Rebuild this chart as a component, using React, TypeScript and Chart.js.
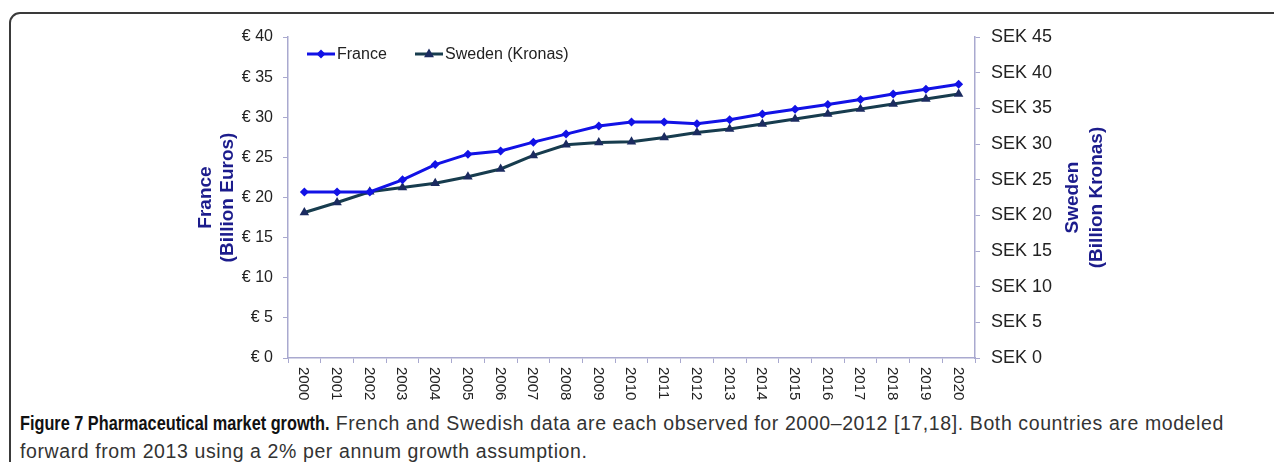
import React, { useEffect, useRef } from 'react';
import { Chart, registerables } from 'chart.js';

Chart.register(...registerables);

const years = ['2000', '2001', '2002', '2003', '2004', '2005', '2006', '2007', '2008', '2009', '2010', '2011', '2012', '2013', '2014', '2015', '2016', '2017', '2018', '2019', '2020'];
const franceBillionEuros = [20.7, 20.7, 20.7, 22.2, 24.1, 25.4, 25.8, 26.9, 27.9, 28.9, 29.4, 29.4, 29.2, 29.7, 30.4, 31.0, 31.6, 32.2, 32.9, 33.5, 34.1];
const swedenBillionKronas = [20.4, 21.8, 23.3, 23.9, 24.5, 25.4, 26.5, 28.4, 29.9, 30.2, 30.3, 30.9, 31.6, 32.1, 32.8, 33.5, 34.2, 34.9, 35.6, 36.3, 37.0];
const euroTickLabels = ['€ 0', '€ 5', '€ 10', '€ 15', '€ 20', '€ 25', '€ 30', '€ 35', '€ 40'];
const sekTickLabels = ['SEK 0', 'SEK 5', 'SEK 10', 'SEK 15', 'SEK 20', 'SEK 25', 'SEK 30', 'SEK 35', 'SEK 40', 'SEK 45'];
const seriesNames = ['France', 'Sweden (Kronas)'];
const leftTitleLines = ['France', '(Billion Euros)'];
const rightTitleLines = ['Sweden', '(Billion Kronas)'];

const FRANCE_COLOR = '#1212e6';
const SWEDEN_LINE = '#173c4e';
const SWEDEN_POINT = '#1b2b60';
const AXIS_COLOR = '#a9a9cf';
const TITLE_COLOR = '#1c1c8c';
const TEXT_COLOR = '#222222';
const FONT = "'Liberation Sans', Arial, sans-serif";

function drawDiamond(ctx: CanvasRenderingContext2D, x: number, y: number, r: number, color: string) {
  ctx.beginPath();
  ctx.moveTo(x, y - r);
  ctx.lineTo(x + r, y);
  ctx.lineTo(x, y + r);
  ctx.lineTo(x - r, y);
  ctx.closePath();
  ctx.fillStyle = color;
  ctx.fill();
}

function drawTriangle(ctx: CanvasRenderingContext2D, x: number, y: number, r: number, color: string) {
  ctx.beginPath();
  ctx.moveTo(x, y - r);
  ctx.lineTo(x + r * 0.9, y + r * 0.6);
  ctx.lineTo(x - r * 0.9, y + r * 0.6);
  ctx.closePath();
  ctx.fillStyle = color;
  ctx.fill();
}

const overlayPlugin = {
  id: 'overlay',
  afterDraw(chart: any) {
    const { ctx, chartArea } = chart;
    const xs = chart.scales.x;
    ctx.save();
    // x labels, reading top to bottom
    ctx.fillStyle = TEXT_COLOR;
    ctx.font = `15px ${FONT}`;
    ctx.textAlign = 'left';
    ctx.textBaseline = 'middle';
    years.forEach((label, i) => {
      const px = xs.getPixelForValue(i);
      ctx.save();
      ctx.translate(px - 1, chartArea.bottom + 9);
      ctx.rotate(Math.PI / 2);
      ctx.fillText(label, 0, 0);
      ctx.restore();
    });
    // axis titles
    const midY = (chartArea.top + chartArea.bottom) / 2;
    ctx.fillStyle = TITLE_COLOR;
    ctx.font = `bold 19px ${FONT}`;
    ctx.textAlign = 'center';
    ctx.textBaseline = 'middle';
    const leftXs = [chartArea.left - 82, chartArea.left - 60];
    leftTitleLines.forEach((t, i) => {
      ctx.save();
      ctx.translate(leftXs[i], midY);
      ctx.rotate(-Math.PI / 2);
      ctx.fillText(t, 0, 0);
      ctx.restore();
    });
    const rightXs = [chartArea.right + 98, chartArea.right + 122];
    rightTitleLines.forEach((t, i) => {
      ctx.save();
      ctx.translate(rightXs[i], midY);
      ctx.rotate(-Math.PI / 2);
      ctx.fillText(t, 0, 0);
      ctx.restore();
    });
    // legend
    const ly = chartArea.top + 17;
    ctx.lineWidth = 3;
    let lx = chartArea.left + 19;
    ctx.strokeStyle = FRANCE_COLOR;
    ctx.beginPath();
    ctx.moveTo(lx, ly);
    ctx.lineTo(lx + 28, ly);
    ctx.stroke();
    drawDiamond(ctx, lx + 14, ly, 4.5, FRANCE_COLOR);
    ctx.fillStyle = TEXT_COLOR;
    ctx.font = `16px ${FONT}`;
    ctx.textAlign = 'left';
    ctx.textBaseline = 'middle';
    ctx.fillText(seriesNames[0], lx + 30, ly + 1);
    lx = chartArea.left + 127;
    ctx.strokeStyle = SWEDEN_LINE;
    ctx.beginPath();
    ctx.moveTo(lx, ly);
    ctx.lineTo(lx + 28, ly);
    ctx.stroke();
    drawTriangle(ctx, lx + 14, ly, 5.5, SWEDEN_POINT);
    ctx.fillStyle = TEXT_COLOR;
    ctx.fillText(seriesNames[1], lx + 30, ly + 1);
    ctx.restore();
  },
};

const CANVAS_W = 1266;
const CANVAS_H = 400;

export default function App() {
  const canvasRef = useRef<HTMLCanvasElement | null>(null);

  useEffect(() => {
    if (!canvasRef.current) return;
    const chart = new Chart(canvasRef.current, {
      type: 'line',
      data: {
        labels: years,
        datasets: [
          {
            label: seriesNames[0],
            data: franceBillionEuros,
            yAxisID: 'yF',
            borderColor: FRANCE_COLOR,
            backgroundColor: FRANCE_COLOR,
            pointBackgroundColor: FRANCE_COLOR,
            pointBorderColor: FRANCE_COLOR,
            pointStyle: 'rectRot',
            pointRadius: 4.5,
            pointBorderWidth: 0,
            borderWidth: 3,
            tension: 0,
          },
          {
            label: seriesNames[1],
            data: swedenBillionKronas,
            yAxisID: 'yS',
            borderColor: SWEDEN_LINE,
            backgroundColor: SWEDEN_POINT,
            pointBackgroundColor: SWEDEN_POINT,
            pointBorderColor: SWEDEN_POINT,
            pointStyle: 'triangle',
            pointRadius: 5.5,
            pointBorderWidth: 0,
            borderWidth: 3,
            tension: 0,
          },
        ],
      },
      options: {
        responsive: false,
        animation: false,
        devicePixelRatio: 1,
        layout: { padding: { top: 29, left: 0, right: 0, bottom: 0 } },
        plugins: {
          legend: { display: false },
          tooltip: { enabled: false },
          title: { display: false },
        },
        scales: {
          x: {
            type: 'category',
            offset: true,
            grid: {
              offset: true,
              drawOnChartArea: false,
              drawTicks: true,
              tickLength: 5,
              color: AXIS_COLOR,
            },
            border: { color: AXIS_COLOR, width: 1.5 },
            ticks: { display: false },
            afterFit: (scale: any) => {
              scale.height = 50;
            },
          },
          yF: {
            type: 'linear',
            position: 'left',
            min: 0,
            max: 40,
            ticks: {
              stepSize: 5,
              padding: 10,
              color: TEXT_COLOR,
              font: { family: FONT, size: 16 },
              callback: (_v: any, i: number) => euroTickLabels[i],
            },
            grid: { drawOnChartArea: false, tickLength: 5, color: AXIS_COLOR },
            border: { color: AXIS_COLOR, width: 1.5 },
            afterFit: (scale: any) => {
              scale.width = 280;
            },
          },
          yS: {
            type: 'linear',
            position: 'right',
            min: 0,
            max: 45,
            ticks: {
              stepSize: 5,
              padding: 11,
              color: TEXT_COLOR,
              font: { family: FONT, size: 18 },
              callback: (_v: any, i: number) => sekTickLabels[i],
            },
            grid: { drawOnChartArea: false, tickLength: 5, color: AXIS_COLOR },
            border: { color: AXIS_COLOR, width: 1.5 },
            afterFit: (scale: any) => {
              scale.width = 299;
            },
          },
        },
      },
      plugins: [overlayPlugin],
    } as any);
    return () => chart.destroy();
  }, []);

  return (
    <div style={{ position: 'relative', width: CANVAS_W, height: 454, overflow: 'hidden', background: '#fff' }}>
      <div
        style={{
          position: 'absolute',
          left: 1,
          top: 4,
          width: 1300,
          height: 520,
          border: '2px solid #3a3a3a',
          borderRadius: 11,
          boxSizing: 'border-box',
        }}
      />
      <canvas
        ref={canvasRef}
        width={CANVAS_W}
        height={CANVAS_H}
        style={{ position: 'absolute', left: 0, top: 0, width: CANVAS_W, height: CANVAS_H }}
      />
      <div
        style={{
          position: 'absolute',
          left: 12,
          top: 401,
          lineHeight: '28px',
          fontSize: 19.5,
          fontFamily: "'Liberation Sans', Arial, sans-serif",
          letterSpacing: '0.6px',
          color: '#333',
          whiteSpace: 'nowrap',
        }}
      >
        <span
          style={{
            display: 'inline-block',
            fontFamily: "'Liberation Sans', Arial, sans-serif",
            fontWeight: 'bold',
            fontSize: 19.5,
            letterSpacing: '0px',
            color: '#111',
            transform: 'scaleX(0.835)',
            transformOrigin: '0 50%',
            marginRight: -61,
          }}
        >
          Figure 7 Pharmaceutical market growth.
        </span>{' '}
        French and Swedish data are each observed for 2000–2012 [17,18]. Both countries are modeled
        <br />
        forward from 2013 using a 2% per annum growth assumption.
      </div>
    </div>
  );
}
